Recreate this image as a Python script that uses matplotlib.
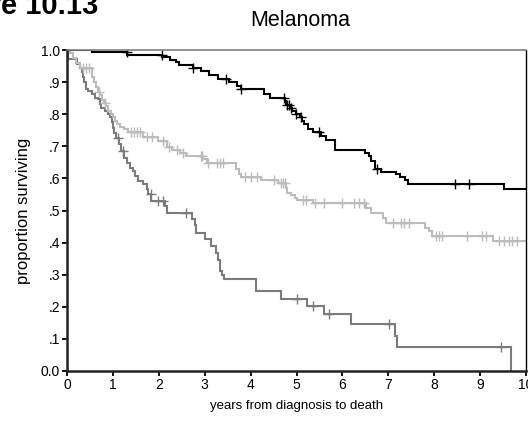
import numpy as np
import matplotlib
matplotlib.use("Agg")
import matplotlib.pyplot as plt

plt.rcParams['font.family'] = ['Liberation Sans', 'DejaVu Sans']

# ---- data (Kaplan-Meier step curves) ----
black_times = [0, 0.54, 1.31, 2.08, 2.25, 2.37, 2.45, 2.74, 2.93, 3.1, 3.28, 3.54, 3.7, 3.78,
               4.3, 4.43, 4.74, 4.78, 4.85, 4.91, 4.98, 5.07, 5.13, 5.17, 5.26, 5.37, 5.54,
               5.65, 5.83, 6.5, 6.59, 6.63, 6.7, 6.85, 7.17, 7.26, 7.37, 7.43, 9.52]
black_surv = [1.0, 0.995, 0.985, 0.978, 0.97, 0.963, 0.954, 0.944, 0.935, 0.922, 0.91, 0.90,
              0.887, 0.878, 0.862, 0.85, 0.84, 0.83, 0.82, 0.81, 0.80, 0.79, 0.78, 0.77, 0.753,
              0.745, 0.731, 0.72, 0.69, 0.68, 0.67, 0.655, 0.628, 0.62, 0.613, 0.603, 0.595,
              0.583, 0.568]
black_censor = [1.3, 2.06, 2.74, 3.46, 3.8, 4.72, 4.8, 4.83, 4.87, 4.98, 5.1, 5.48, 6.76,
                8.45, 8.76]
black_end = 10.0

light_times = [0, 0.065, 0.13, 0.2, 0.28, 0.54, 0.59, 0.63, 0.67, 0.72, 0.76, 0.8, 0.85, 0.89,
               0.96, 1.0, 1.04, 1.09, 1.15, 1.24, 1.33, 1.65, 1.98, 2.17, 2.28, 2.46, 2.6, 2.96,
               3.05, 3.69, 3.74, 3.8, 4.23, 4.59, 4.78, 4.8, 4.88, 4.96, 5.02, 5.35, 6.51, 6.62,
               6.88, 6.95, 7.8, 7.89, 7.95, 9.28]
light_surv = [1.0, 0.99, 0.975, 0.96, 0.945, 0.916, 0.90, 0.885, 0.87, 0.86, 0.845, 0.835,
              0.825, 0.81, 0.80, 0.79, 0.78, 0.77, 0.76, 0.753, 0.744, 0.728, 0.716, 0.697,
              0.687, 0.678, 0.67, 0.66, 0.649, 0.63, 0.613, 0.605, 0.595, 0.586, 0.571, 0.555,
              0.547, 0.54, 0.534, 0.522, 0.508, 0.492, 0.477, 0.461, 0.446, 0.435, 0.42, 0.404]
light_censor = [0.35, 0.41, 0.48, 0.7, 0.82, 1.4, 1.45, 1.52, 1.58, 1.75, 1.85, 2.1, 2.22, 2.4,
                2.52, 2.91, 2.95, 3.07, 3.26, 3.33, 3.4, 3.87, 4.01, 4.13, 4.5, 4.67, 4.7,
                4.74, 5.14, 5.21, 5.41, 5.61, 6.0, 6.26, 6.37, 6.48, 7.1, 7.28, 7.35, 7.46,
                8.04, 8.11, 8.17, 8.72, 9.05, 9.12, 9.41, 9.52, 9.63, 9.7, 9.81]
light_end = 10.0

mid_times = [0, 0.02, 0.21, 0.28, 0.32, 0.34, 0.37, 0.41, 0.46, 0.54, 0.61, 0.68, 0.72, 0.75,
             0.83, 0.9, 0.93, 0.97, 1.0, 1.03, 1.06, 1.14, 1.17, 1.24, 1.3, 1.37, 1.44, 1.48,
             1.55, 1.66, 1.74, 1.77, 1.84, 2.13, 2.17, 2.72, 2.78, 2.82, 3.0, 3.13, 3.25, 3.29,
             3.33, 3.38, 3.41, 4.12, 4.67, 5.22, 5.61, 6.19, 7.14, 7.19, 9.68]
mid_surv = [1.0, 0.972, 0.956, 0.945, 0.93, 0.915, 0.899, 0.88, 0.873, 0.862, 0.852, 0.847,
            0.831, 0.82, 0.81, 0.80, 0.79, 0.777, 0.758, 0.742, 0.727, 0.706, 0.685, 0.664,
            0.649, 0.633, 0.623, 0.607, 0.592, 0.581, 0.566, 0.55, 0.529, 0.514, 0.493, 0.475,
            0.455, 0.43, 0.41, 0.389, 0.368, 0.347, 0.31, 0.30, 0.287, 0.248, 0.224, 0.201,
            0.177, 0.146, 0.11, 0.074, 0.0]
mid_censor = [1.12, 1.22, 1.82, 1.99, 2.09, 2.6, 5.01, 5.35, 5.70, 7.01, 9.45]
mid_end = 9.68

x_ticks = list(range(0, 11))
x_ticklabels = [str(v) for v in x_ticks]
y_ticks = [0.0, 0.1, 0.2, 0.3, 0.4, 0.5, 0.6, 0.7, 0.8, 0.9, 1.0]
y_ticklabels = ["0.0", ".1", ".2", ".3", ".4", ".5", ".6", ".7", ".8", ".9", "1.0"]

# ---- figure ----
W, H = 528, 436
fig = plt.figure(figsize=(W / 100, H / 100), dpi=100)
ax = fig.add_axes([67 / W, 1 - 371 / H, (526 - 67) / W, (371 - 50) / H])


def draw(times, surv, censor, end, color, lw):
    t = list(times) + [end]
    s = list(surv) + [surv[-1]]
    ax.step(t, s, where='post', color=color, lw=lw, solid_joinstyle='miter', zorder=3)
    tt = np.asarray(times)
    ss = np.asarray(surv)
    idx = np.searchsorted(tt, censor, side='right') - 1
    ax.plot(censor, ss[idx], ls='none', marker='+', ms=6.5, mew=1.0, color=color, zorder=3)


draw(mid_times, mid_surv, mid_censor, mid_end, '#7c7c7c', 1.5)
draw(light_times, light_surv, light_censor, light_end, '#bcbcbc', 1.5)
draw(black_times, black_surv, black_censor, black_end, '#000000', 1.5)

ax.set_xlim(0, 10)
ax.set_ylim(0, 1.0)
ax.set_xticks(x_ticks)
ax.set_xticklabels(x_ticklabels)
ax.set_yticks(y_ticks)
ax.set_yticklabels(y_ticklabels)
ax.tick_params(axis='both', direction='out', length=3.5, width=1.3, labelsize=10,
               colors='black', pad=1.5)

for side in ['left', 'bottom']:
    ax.spines[side].set_linewidth(1.8)
    ax.spines[side].set_color('#222222')
ax.spines['top'].set_color('#808080')
ax.spines['top'].set_linewidth(1.2)
ax.spines['right'].set_color('#000000')
ax.spines['right'].set_linewidth(1.0)
for sp in ax.spines.values():
    sp.set_zorder(4)

ax.set_xlabel('years from diagnosis to death', fontsize=9.5, labelpad=6)
ax.set_ylabel('proportion surviving', fontsize=12, labelpad=7)

fig.text(300 / W, 1 - 20 / H, 'Melanoma', ha='center', va='center', fontsize=15.5)
fig.text(98 / W, 1 - 13.5 / H, 'Figure 10.13', ha='right', va='baseline',
         fontsize=21, fontweight='bold')

fig.savefig('out.png', dpi=100)
